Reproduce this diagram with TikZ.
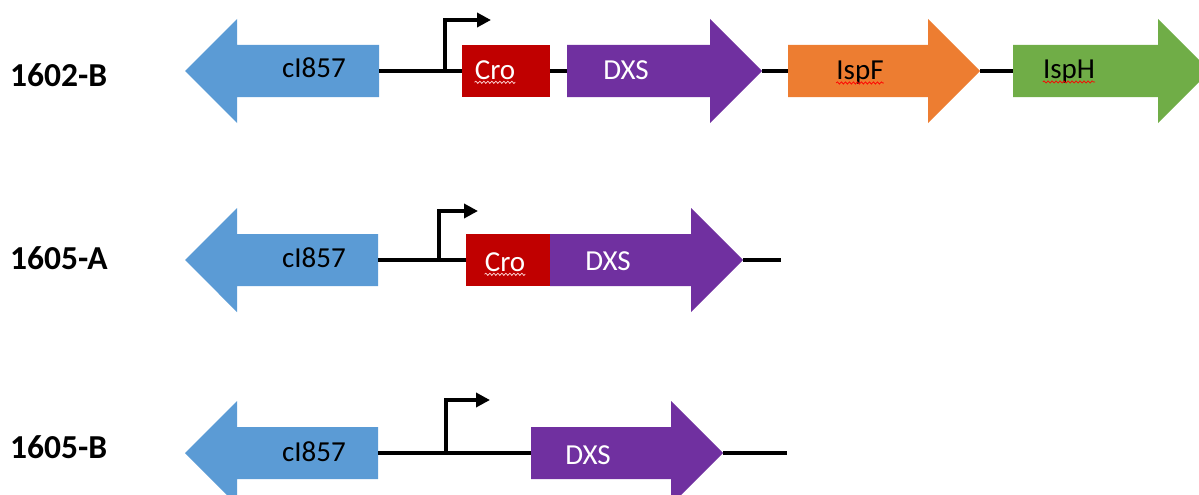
\documentclass[tikz,border=0pt]{standalone}
\usepackage{fontspec}
\setmainfont{Carlito}
\usetikzlibrary{arrows.meta,decorations.pathmorphing}

\definecolor{ciblue}{HTML}{5B9BD5}
\definecolor{crored}{HTML}{C00000}
\definecolor{dxspurple}{HTML}{7030A0}
\definecolor{isporange}{HTML}{ED7D31}
\definecolor{ispgreen}{HTML}{70AD47}

\begin{document}
\begin{tikzpicture}[x=1pt, y=-1pt, >={Triangle[length=14pt,width=14pt]},
  backbone/.style={line width=3.5pt},
  promoter/.style={line width=3.5pt, ->},
  crobox/.style={fill=crored, minimum width=88pt, minimum height=52pt, inner sep=0pt},
  genename/.style={font=\fontsize{29}{34}\selectfont, inner sep=0pt},
  strain/.style={font=\fontsize{33.5}{38}\selectfont\bfseries, anchor=west, inner sep=0pt},
  squig/.style={red, line width=0.7pt, decorate,
    decoration={snake, amplitude=1.1pt, segment length=4pt}}]
\useasboundingbox (0,0) rectangle (1199,495);

% gene arrows
\foreach \n/\a/\b/\c/\col in {cIa/379/185/71/ciblue, dxsA/567/762/71/dxspurple,
    ispF/788/980/71/isporange, ispH/1013/1210/71/ispgreen,
    cIb/378/185/260/ciblue, dxsB/550/743/260/dxspurple,
    cIc/378/185/453/ciblue, dxsC/531/723/453/dxspurple} {
  \pgfmathsetmacro{\hb}{\b-52*sign(\b-\a)}
  \fill [\col] (\a,\c-26) -- (\hb,\c-26) -- (\hb,\c-52) -- (\b,\c)
    -- (\hb,\c+52) -- (\hb,\c+26) -- (\a,\c+26) -- cycle;
  \coordinate (\n-tail) at (\a,\c);
  \coordinate (\n-tip) at (\b,\c);
}

\node [crobox] (croA) at (506,71) {};
\node [crobox, minimum width=84pt] (croB) at (508,260) {};

\coordinate (endB) at (781,260);
\coordinate (endC) at (787,453);

% backbone
\draw [backbone] (cIa-tail) -- (croA.west);
\draw [backbone] (croA.east) -- (dxsA-tail);
\draw [backbone] (dxsA-tip) -- (ispF-tail);
\draw [backbone] (ispF-tip) -- (ispH-tail);
\draw [backbone] (cIb-tail) -- (croB.west);
\draw [backbone] (dxsB-tip) -- (endB);
\draw [backbone] (cIc-tail) -- (dxsC-tail);
\draw [backbone] (dxsC-tip) -- (endC);

% promoters
\coordinate (pA) at (445,71);
\coordinate (pB) at (439,260);
\coordinate (pC) at (446,453);
\draw [promoter] (pA) |- ++(46,-51);
\draw [promoter] (pB) |- ++(39,-49);
\draw [promoter] (pC) |- ++(44,-53);

\foreach \n/\x/\y/\t/\c in {cIa/314/68/cI857/black, croA/495/70/Cro/white,
    dxsA/626/70/DXS/white, ispF/860/73/IspF/black, ispH/1069/72/IspH/black,
    cIb/314/258/cI857/black, croB/505/262/Cro/white, dxsB/608/261/DXS/white,
    cIc/314/452/cI857/black, dxsC/588/455/DXS/white}
  \node [genename, text=\c] (\n-name) at (\x,\y) {\t};

\foreach \n/\c in {croA/red!15, croB/red!15, ispF/red, ispH/red}
  \draw [squig, \c] ([yshift=-3pt]\n-name.base west) -- ([yshift=-3pt]\n-name.base east);

\foreach \l/\y [count=\i] in {1602-B/75, 1605-A/258, 1605-B/447}
  \node [strain] (strain-\i) at (10,\y) {\l};
\end{tikzpicture}
\end{document}
